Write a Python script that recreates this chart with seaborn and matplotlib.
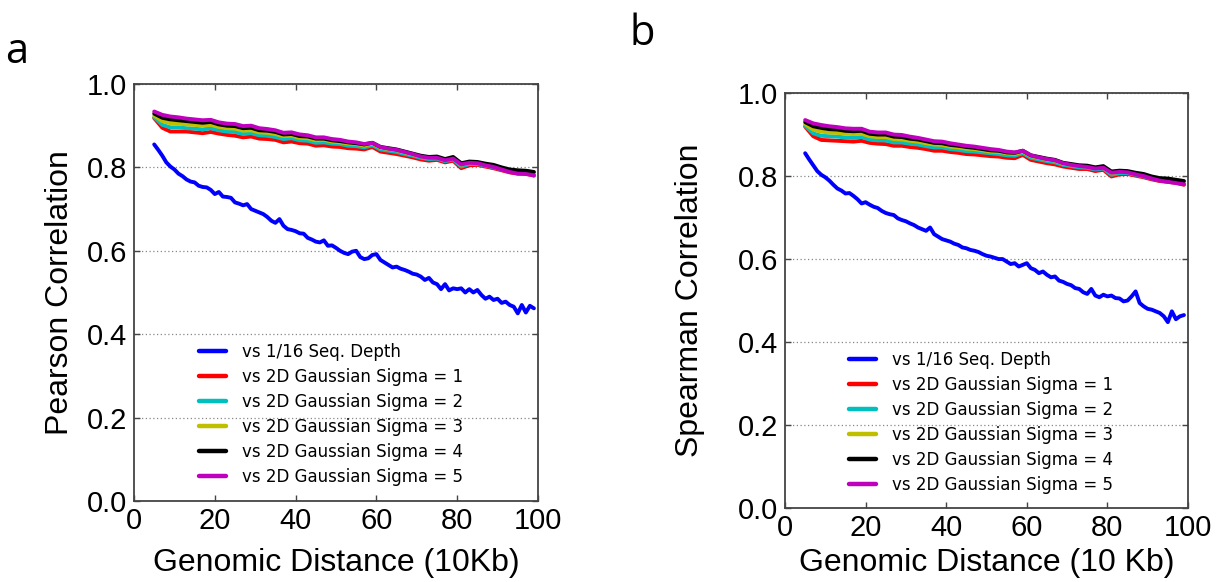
import numpy as np
import pandas as pd
import matplotlib
matplotlib.use("Agg")
import matplotlib.pyplot as plt
from matplotlib.lines import Line2D
import seaborn as sns

# ---------------- data ----------------
x_blue = list(range(5, 100))          # 5 .. 99
x_sig = list(range(5, 100, 2))        # 5, 7, ..., 99

series_names = ["vs 1/16 Seq. Depth",
                "vs 2D Gaussian Sigma = 1",
                "vs 2D Gaussian Sigma = 2",
                "vs 2D Gaussian Sigma = 3",
                "vs 2D Gaussian Sigma = 4",
                "vs 2D Gaussian Sigma = 5"]
series_colors = ["#0000ff", "#ff0000", "#00bfbf", "#bfbf00", "#000000", "#bf00bf"]

# Panel a (Pearson)
a_depth = [.855, .842, .828, .812, .802, .795, .785, .779, .771, .766,
           .764, .756, .753, .752, .746, .736, .741, .730, .729, .727,
           .716, .713, .709, .712, .700, .696, .692, .688, .681, .672,
           .667, .676, .660, .652, .650, .647, .642, .641, .631, .627,
           .622, .620, .625, .612, .613, .607, .600, .595, .592, .598,
           .600, .585, .580, .582, .590, .592, .578, .572, .566, .560,
           .562, .557, .554, .550, .545, .543, .538, .530, .535, .524,
           .520, .508, .520, .505, .510, .508, .510, .500, .508, .500,
           .506, .494, .485, .490, .482, .485, .475, .478, .470, .466,
           .450, .470, .452, .468, .462]
a_s1 = [.918, .895, .886, .886, .886, .884, .882, .885, .881, .878, .876, .872,
        .874, .869, .868, .866, .860, .862, .858, .857, .852, .853, .850, .849,
        .846, .845, .843, .849, .838, .835, .832, .828, .824, .819, .816, .818,
        .812, .816, .798, .805, .806, .802, .798, .793, .788, .785, .785, .780]
a_s2 = [.920, .902, .896, .896, .894, .893, .891, .894, .889, .886, .885, .880,
        .882, .877, .876, .873, .868, .870, .865, .864, .859, .860, .857, .856,
        .852, .851, .848, .853, .843, .840, .837, .832, .828, .823, .820, .821,
        .815, .819, .802, .808, .808, .804, .800, .795, .790, .787, .787, .782]
a_s3 = [.924, .911, .906, .905, .903, .902, .900, .902, .897, .894, .893, .888,
        .889, .884, .883, .880, .875, .876, .871, .870, .865, .866, .862, .860,
        .857, .856, .852, .857, .847, .844, .841, .836, .831, .826, .823, .824,
        .818, .822, .806, .811, .811, .806, .803, .798, .793, .791, .791, .788]
a_s4 = [.929, .919, .915, .913, .911, .909, .907, .909, .903, .900, .899, .894,
        .895, .889, .888, .885, .879, .880, .875, .874, .869, .869, .865, .863,
        .860, .858, .855, .859, .849, .846, .843, .838, .833, .828, .825, .826,
        .820, .825, .810, .814, .813, .809, .806, .800, .795, .793, .792, .789]
a_s5 = [.934, .926, .922, .920, .917, .915, .913, .914, .908, .905, .904, .899,
        .900, .894, .892, .889, .883, .884, .879, .877, .872, .872, .868, .866,
        .862, .860, .856, .859, .849, .845, .842, .837, .832, .826, .823, .823,
        .817, .821, .807, .811, .810, .805, .801, .795, .789, .785, .784, .781]

# Panel b (Spearman)
b_depth = [.855, .840, .826, .812, .803, .797, .789, .779, .770, .765,
           .758, .759, .752, .744, .734, .737, .731, .726, .723, .716,
           .711, .708, .706, .698, .694, .691, .686, .682, .676, .672,
           .668, .676, .660, .654, .648, .645, .642, .637, .634, .628,
           .626, .622, .620, .617, .612, .608, .606, .603, .600, .600,
           .594, .588, .590, .582, .586, .590, .578, .574, .566, .570,
           .562, .556, .558, .548, .545, .540, .537, .530, .528, .520,
           .516, .528, .512, .508, .514, .510, .512, .506, .505, .498,
           .500, .510, .522, .494, .486, .480, .478, .474, .470, .462,
           .448, .474, .455, .462, .465]
b_s1 = [.919, .896, .887, .886, .885, .884, .883, .885, .880, .878, .877, .873,
        .873, .870, .868, .865, .861, .861, .858, .856, .853, .852, .850, .848,
        .847, .844, .843, .851, .839, .835, .831, .828, .823, .820, .817, .817,
        .812, .815, .799, .804, .805, .801, .797, .792, .788, .786, .784, .779]
b_s2 = [.921, .903, .897, .896, .895, .893, .892, .894, .888, .886, .886, .881,
        .881, .878, .876, .872, .869, .869, .865, .863, .860, .859, .857, .855,
        .853, .850, .849, .855, .844, .840, .836, .833, .827, .824, .821, .820,
        .816, .818, .803, .807, .807, .803, .799, .794, .790, .788, .786, .781]
b_s3 = [.925, .912, .907, .905, .904, .902, .901, .902, .896, .894, .894, .889,
        .888, .885, .883, .879, .876, .875, .871, .869, .866, .865, .862, .859,
        .858, .855, .853, .859, .848, .844, .840, .837, .830, .827, .824, .823,
        .819, .821, .807, .810, .810, .805, .802, .797, .793, .792, .790, .787]
b_s4 = [.930, .920, .916, .913, .912, .909, .908, .909, .902, .900, .900, .895,
        .894, .890, .888, .884, .880, .879, .875, .873, .870, .868, .865, .862,
        .861, .857, .856, .861, .850, .846, .842, .839, .832, .829, .826, .825,
        .821, .824, .811, .813, .812, .808, .805, .799, .795, .794, .791, .788]
b_s5 = [.935, .927, .923, .920, .918, .915, .914, .914, .907, .905, .905, .900,
        .899, .895, .892, .888, .884, .883, .879, .876, .873, .871, .868, .865,
        .863, .859, .857, .861, .850, .845, .841, .838, .831, .827, .824, .822,
        .818, .820, .808, .810, .809, .804, .800, .794, .789, .786, .783, .780]

x_ticks = [0, 20, 40, 60, 80, 100]
y_ticks = [0.0, 0.2, 0.4, 0.6, 0.8, 1.0]
y_tick_labels = ["0.0", "0.2", "0.4", "0.6", "0.8", "1.0"]


def long_frame(depth, sigmas):
    frames = [pd.DataFrame({"x": x_blue, "y": depth, "series": series_names[0]})]
    for name, vals in zip(series_names[1:], sigmas):
        frames.append(pd.DataFrame({"x": x_sig, "y": vals, "series": name}))
    return pd.concat(frames, ignore_index=True)


df_a = long_frame(a_depth, [a_s1, a_s2, a_s3, a_s4, a_s5])
df_b = long_frame(b_depth, [b_s1, b_s2, b_s3, b_s4, b_s5])

# ---------------- figure ----------------
sns.set_style("white")
plt.rcParams["font.family"] = ["Liberation Sans", "DejaVu Sans"]
plt.rcParams["text.color"] = "black"
plt.rcParams["axes.labelcolor"] = "black"
plt.rcParams["xtick.color"] = "black"
plt.rcParams["ytick.color"] = "black"

fig = plt.figure(figsize=(12.26, 5.82), dpi=100)
ax_a = fig.add_axes([0.1093, 0.1392, 0.3295, 0.7165])
ax_b = fig.add_axes([0.6403, 0.1271, 0.3287, 0.7130])

palette = dict(zip(series_names, series_colors))
spine_col = "#444444"


def draw(ax, df, ylabel, xlabel, xlab_y, ylab_x, leg_xy):
    sns.lineplot(data=df, x="x", y="y", hue="series", hue_order=series_names,
                 palette=palette, estimator=None, sort=False, linewidth=2.8,
                 legend=False, ax=ax)
    ax.set_xlim(0, 100)
    ax.set_ylim(0, 1.0)
    ax.set_xticks(x_ticks)
    ax.set_xticklabels([str(t) for t in x_ticks])
    ax.set_yticks(y_ticks)
    ax.set_yticklabels(y_tick_labels)
    ax.yaxis.grid(True, linestyle=(0, (1, 2)), color="#888888", linewidth=0.9)
    ax.xaxis.grid(False)
    for sp in ax.spines.values():
        sp.set_visible(True)
        sp.set_color(spine_col)
        sp.set_linewidth(1.3)
    ax.tick_params(axis="both", which="major", direction="in", length=4.5,
                   width=1.0, color=spine_col, labelcolor="black", labelsize=21,
                   top=True, right=True, bottom=True, left=True)
    ax.tick_params(axis="x", pad=4)
    ax.tick_params(axis="y", pad=5)
    ax.set_xlabel(xlabel, fontsize=23, color="black")
    ax.set_ylabel(ylabel, fontsize=23, color="black")
    ax.xaxis.set_label_coords(0.5, xlab_y)
    ax.yaxis.set_label_coords(ylab_x, 0.5)
    handles = [Line2D([], [], color=c, linewidth=3.2) for c in series_colors]
    leg = ax.legend(handles, series_names, loc="center left", bbox_to_anchor=leg_xy,
                    frameon=False, borderpad=0, handlelength=1.6, handletextpad=1.0,
                    labelspacing=0.42, prop={"family": "DejaVu Sans", "size": 12})
    for t in leg.get_texts():
        t.set_color("black")


draw(ax_a, df_a, "Pearson Correlation", "Genomic Distance (10Kb)",
     -0.113, -0.146, (0.140, 0.207))
draw(ax_b, df_b, "Spearman Correlation", "Genomic Distance (10 Kb)",
     -0.096, -0.199, (0.138, 0.207))

fig.text(17 / 1226, 1 - 63 / 582, "a", fontsize=30, family="Open Sans",
         ha="center", va="baseline", color="black")
fig.text(642 / 1226, 1 - 45 / 582, "b", fontsize=30, family="Open Sans",
         ha="center", va="baseline", color="black")

fig.savefig("out.png", dpi=100)
